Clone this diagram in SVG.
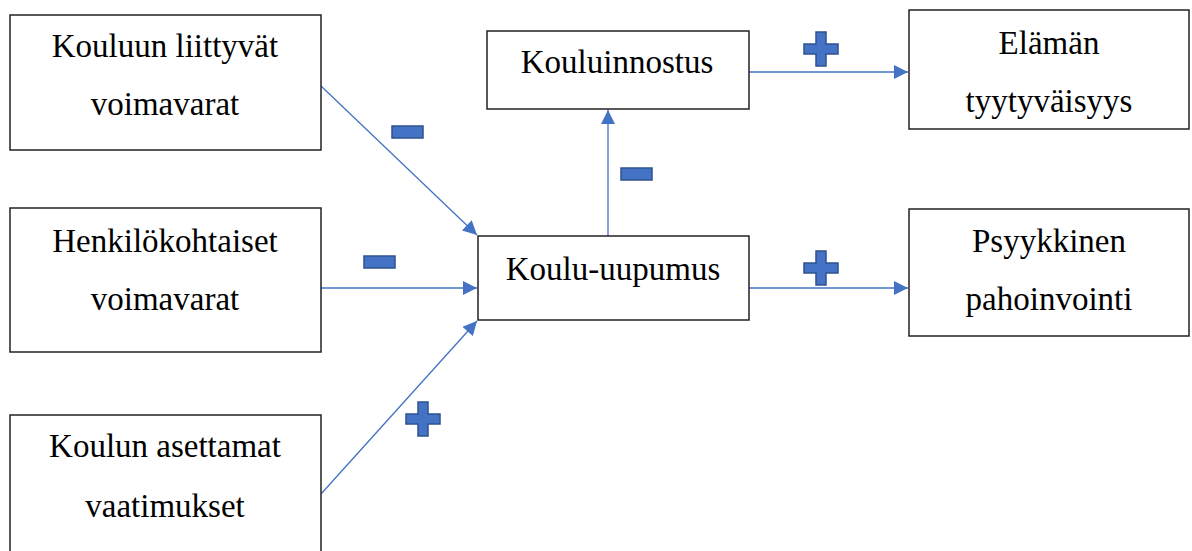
<svg xmlns="http://www.w3.org/2000/svg" width="1192" height="551" viewBox="0 0 1192 551">
<style>
.box{fill:#fff;stroke:#222;stroke-width:1.5}
.t{font-family:"Liberation Serif","Times New Roman",serif;font-size:33px;fill:#000;text-anchor:middle}
.c{stroke:#4472C4;stroke-width:1.3;fill:none;marker-end:url(#ah)}
.sign{fill:#4472C4;stroke:#2F528F;stroke-width:1.5}
</style>
<defs>
<marker id="ah" viewBox="0 0 10 10" refX="10" refY="5" markerWidth="16" markerHeight="14" markerUnits="userSpaceOnUse" orient="auto">
<path d="M0,0 L10,5 L0,10 z" fill="#4472C4"/>
</marker>
</defs>
<rect width="1192" height="551" fill="#fff"/>
<g id="connectors">
<line class="c" x1="321" y1="86" x2="477" y2="235"/>
<line class="c" x1="321" y1="288" x2="477" y2="288"/>
<line class="c" x1="321" y1="494" x2="477" y2="321"/>
<line class="c" x1="608" y1="236" x2="608" y2="110"/>
<line class="c" x1="749" y1="72" x2="908" y2="72"/>
<line class="c" x1="749" y1="288" x2="908" y2="288"/>
</g>
<g id="signs">
<rect class="sign" x="392" y="126" width="31" height="12"/>
<rect class="sign" x="364" y="256" width="31" height="12"/>
<rect class="sign" x="621" y="168" width="31" height="12"/>
<path class="sign" d="M418,402 h10 v12 h12 v10 h-12 v12 h-10 v-12 h-12 v-10 h12 z"/>
<path class="sign" d="M816,32 h10 v12 h12 v10 h-12 v12 h-10 v-12 h-12 v-10 h12 z"/>
<path class="sign" d="M816,251 h10 v12 h12 v10 h-12 v12 h-10 v-12 h-12 v-10 h12 z"/>
</g>
<g id="n1"><rect class="box" x="10" y="15" width="311" height="135"/><text class="t" x="165" y="57">Kouluun liittyvät</text><text class="t" x="165" y="115">voimavarat</text></g>
<g id="n2"><rect class="box" x="10" y="208" width="311" height="144"/><text class="t" x="165" y="252">Henkilökohtaiset</text><text class="t" x="165" y="310">voimavarat</text></g>
<g id="n3"><rect class="box" x="10" y="415" width="311" height="145"/><text class="t" x="165" y="457">Koulun asettamat</text><text class="t" x="165" y="517">vaatimukset</text></g>
<g id="n4"><rect class="box" x="478" y="236" width="271" height="84"/><text class="t" x="613" y="280">Koulu-uupumus</text></g>
<g id="n5"><rect class="box" x="487" y="31" width="262" height="78"/><text class="t" x="617" y="73">Kouluinnostus</text></g>
<g id="n6"><rect class="box" x="909" y="10" width="280" height="119"/><text class="t" x="1049" y="54">Elämän</text><text class="t" x="1049" y="112">tyytyväisyys</text></g>
<g id="n7"><rect class="box" x="909" y="209" width="280" height="127"/><text class="t" x="1049" y="252">Psyykkinen</text><text class="t" x="1049" y="310">pahoinvointi</text></g>
</svg>
